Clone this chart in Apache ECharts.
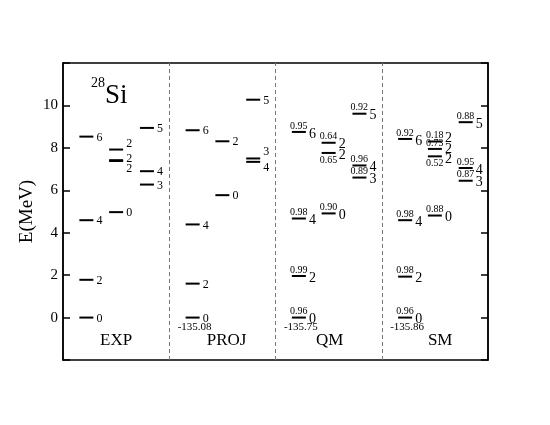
<!DOCTYPE html>
<html>
<head>
<meta charset="utf-8">
<script src="https://cdn.jsdelivr.net/npm/echarts@6/dist/echarts.min.js"></script>
<style>
  html, body { margin: 0; padding: 0; background: #fff; }
  #chart { width: 550px; height: 425px; }
</style>
</head>
<body>
<div id="chart"></div>
<script>
// panels and the level data (energies in MeV)
const panelNames = ['EXP', 'PROJ', 'QM', 'SM'];
const groundEnergy = ['', '-135.08', '-135.75', '-135.86'];

const expSpin = ['0', '2', '4', '6', '0', '2', '2', '2', '4', '3', '5'];
const expCol = [0, 0, 0, 0, 1, 1, 1, 1, 2, 2, 2];
const expE = [0, 1.78, 4.59, 8.53, 4.97, 7.92, 7.42, 7.38, 6.90, 6.27, 8.94];

const projSpin = ['0', '2', '4', '6', '0', '2', '3', '4', '5'];
const projCol = [0, 0, 0, 0, 1, 1, 2, 2, 2];
const projE = [0, 1.60, 4.39, 8.83, 5.77, 8.31, 7.50, 7.34, 10.27];

const qmSpin = ['0', '2', '4', '6', '0', '2', '2', '4', '3', '5'];
const qmCol = [0, 0, 0, 0, 1, 1, 1, 2, 2, 2];
const qmE = [0, 1.96, 4.67, 8.75, 4.91, 8.24, 7.76, 7.17, 6.60, 9.61];
const qmOverlap = ['0.96', '0.99', '0.98', '0.95', '0.90', '0.64', '0.65', '0.96', '0.89', '0.92'];

const smSpin = ['0', '2', '4', '6', '0', '2', '2', '2', '4', '3', '5'];
const smCol = [0, 0, 0, 0, 1, 1, 1, 1, 2, 2, 2];
const smE = [0, 1.93, 4.59, 8.42, 4.81, 8.30, 7.95, 7.60, 7.05, 6.45, 9.21];
const smOverlap = ['0.96', '0.98', '0.98', '0.92', '0.88', '0.18', '0.73', '0.52', '0.95', '0.87', '0.88'];

// layout tweaks (px) so close labels don't overlap
const colOffset = [0.22, 0.50, 0.79];
const nameOffset = [0.5, 0.54, 0.51, 0.55];
const spinShift = { '0-5': -7, '0-6': -2, '0-7': 7, '1-6': -8, '1-7': 5, '3-5': -5, '3-6': -2, '3-7': 1 };
const overlapBelow = { '2-6': true, '3-7': true };

const FONT = 'Liberation Serif';

const panels = [
  { spin: expSpin, col: expCol, e: expE },
  { spin: projSpin, col: projCol, e: projE },
  { spin: qmSpin, col: qmCol, e: qmE, ov: qmOverlap },
  { spin: smSpin, col: smCol, e: smE, ov: smOverlap }
];

const levels = [];
panels.forEach((p, pi) => {
  p.e.forEach((e, i) => {
    levels.push({
      value: [pi + colOffset[p.col[i]], e],
      panel: pi,
      key: pi + '-' + i,
      spin: p.spin[i],
      overlap: p.ov ? p.ov[i] : '',
      ground: e === 0 ? groundEnergy[pi] : ''
    });
  });
});

function renderLevel(params, api) {
  const lv = levels[params.dataIndex];
  const pt = api.coord([api.value(0), api.value(1)]);
  const half = 7;
  const small = lv.panel < 2;
  const children = [{
    type: 'rect',
    shape: { x: pt[0] - half, y: pt[1] - 1, width: half * 2, height: 2 },
    style: { fill: '#000' }
  }, {
    type: 'text',
    style: {
      text: lv.spin,
      x: pt[0] + half + 3,
      y: pt[1] + (small ? 1 : 2) + (spinShift[lv.key] || 0),
      font: (small ? 12 : 14) + 'px ' + FONT,
      fill: '#000',
      align: 'left',
      verticalAlign: 'middle'
    }
  }];
  if (lv.overlap) {
    const below = overlapBelow[lv.key];
    children.push({
      type: 'text',
      style: {
        text: lv.overlap,
        x: pt[0] - half - 2,
        y: below ? pt[1] + 2 : pt[1] - 1,
        font: '10px ' + FONT,
        fill: '#000',
        align: 'left',
        verticalAlign: below ? 'top' : 'bottom'
      }
    });
  }
  if (lv.ground) {
    children.push({
      type: 'text',
      style: {
        text: lv.ground,
        x: pt[0] + 2,
        y: pt[1] + 10,
        font: '11px ' + FONT,
        fill: '#000',
        align: 'center',
        verticalAlign: 'middle'
      }
    });
  }
  return { type: 'group', children: children };
}

function renderName(params, api) {
  const pt = api.coord([api.value(0), api.value(1)]);
  return {
    type: 'text',
    style: {
      text: panelNames[params.dataIndex],
      x: pt[0], y: pt[1],
      font: '17px ' + FONT,
      fill: '#000',
      align: 'center',
      verticalAlign: 'middle'
    }
  };
}

const chart = echarts.init(document.getElementById('chart'));
chart.setOption({
  animation: false,
  grid: { left: 63, right: 62, top: 63, bottom: 65, show: true, borderColor: '#000', borderWidth: 1.5 },
  xAxis: {
    type: 'value', min: 0, max: 4, interval: 1,
    axisLine: { show: false }, axisTick: { show: false },
    axisLabel: { show: false }, splitLine: { show: false }
  },
  yAxis: [{
    type: 'value', min: -2, max: 12, interval: 2, position: 'left',
    name: 'E(MeV)', nameLocation: 'middle', nameGap: 26, nameMoveOverlap: false,
    nameTextStyle: { fontFamily: FONT, fontSize: 19, color: '#000' },
    axisLine: { show: true, lineStyle: { color: '#000', width: 1.5 } },
    axisTick: { inside: true, length: 7, lineStyle: { color: '#000', width: 1.5 } },
    axisLabel: {
      fontFamily: FONT, fontSize: 15, color: '#000', margin: 5,
      formatter: v => (v < 0 || v > 10) ? '' : String(v)
    },
    splitLine: { show: false }
  }, {
    type: 'value', min: -2, max: 12, interval: 2, position: 'right',
    axisLine: { show: true, lineStyle: { color: '#000', width: 1.5 } },
    axisTick: { inside: true, length: 7, lineStyle: { color: '#000', width: 1.5 } },
    axisLabel: { show: false },
    splitLine: { show: false }
  }],
  graphic: [
    { type: 'text', left: 91, top: 76, style: { text: '28', font: '14px ' + FONT, fill: '#000' } },
    { type: 'text', left: 105, top: 82, style: { text: 'Si', font: '27px ' + FONT, fill: '#000' } }
  ],
  series: [{
    type: 'custom',
    renderItem: renderLevel,
    data: levels,
    clip: false,
    silent: true,
    markLine: {
      silent: true,
      symbol: ['none', 'none'],
      label: { show: false },
      lineStyle: { type: [4, 3], color: '#777', width: 1 },
      data: [{ xAxis: 1 }, { xAxis: 2 }, { xAxis: 3 }]
    }
  }, {
    type: 'custom',
    renderItem: renderName,
    silent: true,
    data: panelNames.map((n, i) => [i + nameOffset[i], -1.1])
  }]
});
</script>
</body>
</html>
